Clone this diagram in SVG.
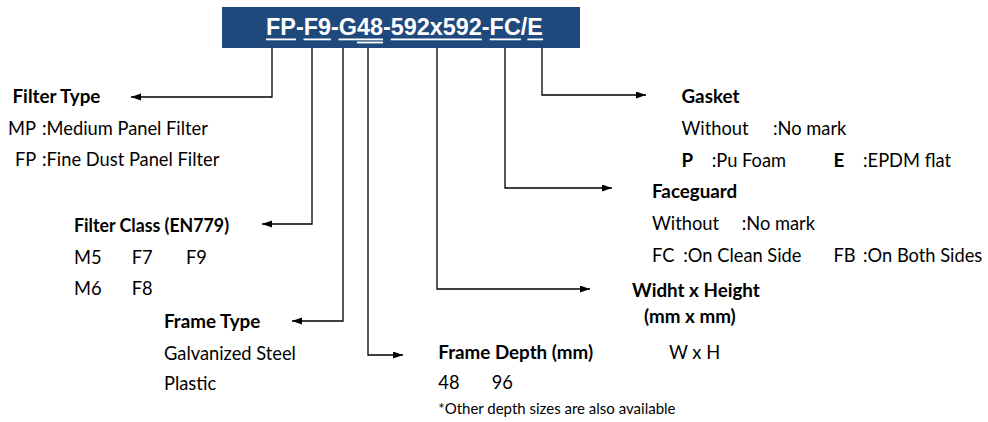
<svg xmlns="http://www.w3.org/2000/svg" width="988" height="422" viewBox="0 0 988 422">
<defs>
<style>
.t{font-family:Lato,"Open Sans","Liberation Sans",sans-serif;font-size:18.3px;fill:#000}
.b{font-weight:bold;font-size:18.8px}
.s{font-size:15px}
.hd{font-family:"Liberation Sans",Arial,sans-serif;font-weight:bold;font-size:23.4px;fill:#fff}
.ul{fill:#fff}
.c{fill:none;stroke:#000;stroke-width:1.3}
</style>
<marker id="ah" markerUnits="userSpaceOnUse" markerWidth="10" markerHeight="8" refX="10" refY="3.5" orient="auto">
<path d="M0,0 L10,3.5 L0,7 z" fill="#000"/>
</marker>
</defs>
<rect width="988" height="422" fill="#fff"/>
<g id="header">
<rect x="222" y="7" width="358" height="41" fill="#1F497D"/>
<text class="hd" x="266" y="35">FP-F9-G48-592x592-FC/E</text>
<rect class="ul" x="266" y="38.5" width="30" height="1.8"/>
<rect class="ul" x="303.5" y="38.5" width="27.5" height="1.8"/>
<rect class="ul" x="338.5" y="38.5" width="44.5" height="1.8"/>
<rect class="ul" x="357" y="41.6" width="26" height="1.8"/>
<rect class="ul" x="390.8" y="38.5" width="91" height="1.8"/>
<rect class="ul" x="489.7" y="38.5" width="31.2" height="1.8"/>
<rect class="ul" x="527.4" y="38.5" width="15.6" height="1.8"/>
</g>
<g id="connectors">
<path class="c" d="M272,48 V97 H131" marker-end="url(#ah)"/>
<path class="c" d="M312,48 V224 H262" marker-end="url(#ah)"/>
<path class="c" d="M343,48 V321 H292" marker-end="url(#ah)"/>
<path class="c" d="M368,48 V355 H403" marker-end="url(#ah)"/>
<path class="c" d="M437,48 V289 H590" marker-end="url(#ah)"/>
<path class="c" d="M505,48 V188 H612" marker-end="url(#ah)"/>
<path class="c" d="M542,48 V95 H646" marker-end="url(#ah)"/>
</g>
<g id="filter-type">
<text class="t b" x="12.5" y="103">Filter Type</text>
<text class="t" x="8" y="134.5">MP</text>
<text class="t" x="42" y="134.5">:Medium Panel Filter</text>
<text class="t" x="15" y="166">FP</text>
<text class="t" x="42" y="166">:Fine Dust Panel Filter</text>
</g>
<g id="filter-class">
<text class="t b" x="74" y="231.5" textLength="155" lengthAdjust="spacingAndGlyphs">Filter Class (EN779)</text>
<text class="t" x="74" y="263.5">M5</text>
<text class="t" x="131.7" y="263.5">F7</text>
<text class="t" x="186" y="263.5">F9</text>
<text class="t" x="74" y="295">M6</text>
<text class="t" x="131.7" y="295">F8</text>
</g>
<g id="frame-type">
<text class="t b" x="164" y="328">Frame Type</text>
<text class="t" x="164" y="359.5">Galvanized Steel</text>
<text class="t" x="164" y="390">Plastic</text>
</g>
<g id="frame-depth">
<text class="t b" x="438.3" y="359">Frame Depth (mm)</text>
<text class="t" x="438.3" y="388.5">48</text>
<text class="t" x="491.7" y="388.5">96</text>
<text class="t s" x="438.3" y="414">*Other depth sizes are also available</text>
</g>
<g id="size">
<text class="t b" x="632" y="297">Widht x Height</text>
<text class="t b" x="644" y="323">(mm x mm)</text>
<text class="t" x="669" y="359">W x H</text>
</g>
<g id="faceguard">
<text class="t b" x="652" y="198.3">Faceguard</text>
<text class="t" x="652" y="230">Without</text>
<text class="t" x="741.7" y="230">:No mark</text>
<text class="t" x="652" y="262.3">FC</text>
<text class="t" x="683.3" y="262.3">:On Clean Side</text>
<text class="t" x="833.5" y="262.3">FB</text>
<text class="t" x="863" y="262.3">:On Both Sides</text>
</g>
<g id="gasket">
<text class="t b" x="681.5" y="103">Gasket</text>
<text class="t" x="681.5" y="135">Without</text>
<text class="t" x="773" y="135">:No mark</text>
<text class="t b" x="681.5" y="166.7">P</text>
<text class="t" x="711.7" y="166.7">:Pu Foam</text>
<text class="t b" x="833.5" y="166.7">E</text>
<text class="t" x="863" y="166.7">:EPDM flat</text>
</g>
</svg>
